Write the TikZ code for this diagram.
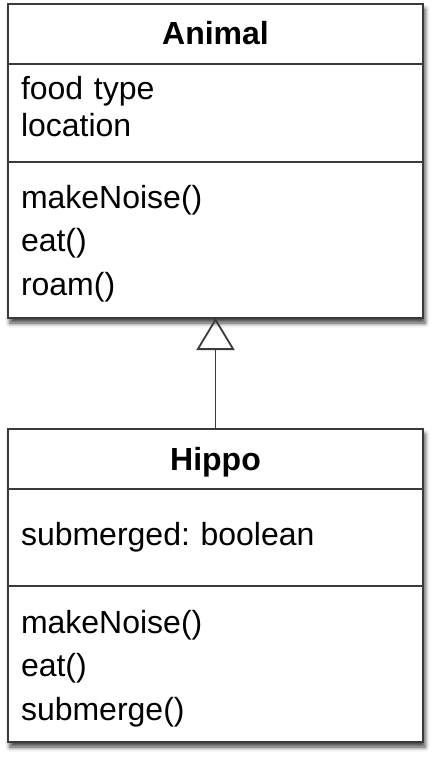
\documentclass[tikz,border=0pt]{standalone}
\usepackage{fontspec}
\setmainfont{Liberation Sans}
\usepackage{tikz}
\usetikzlibrary{positioning,arrows.meta,fit,backgrounds,shadows.blur}

\definecolor{umlline}{HTML}{3A3A3A}

\tikzset{
  umlpart/.style={draw=umlline, line width=1.8pt, fill=white, outer sep=0pt,
    text width=389pt, inner xsep=13pt, inner ysep=0pt, align=left,
    font=\frenchspacing\fontsize{32}{37}\selectfont},
  umlhead/.style={umlpart, align=center, text height=22pt, text depth=0pt,
    minimum height=60pt, font=\frenchspacing\bfseries\fontsize{32}{37}\selectfont},
  umlshadow/.style={fill=white, inner sep=0pt,
    blur shadow={shadow xshift=2pt, shadow yshift=-5pt, shadow blur radius=4.5pt, shadow opacity=75}},
  umlarrow/.style={draw=umlline, line width=1.8pt,
    -{Triangle[open, length=32pt, width=38pt, line width=1.8pt]}}
}

\begin{document}
\begin{tikzpicture}[x=1pt, y=1pt]

  \useasboundingbox (0,0) rectangle (434,-762);

  % the Animal class
  \node[umlhead] (animalhead) at (215.5,-34) {Animal};
  \node[umlpart, below=0pt of animalhead, text height=36pt, text depth=62pt]
    (animalattr) {food type\\location};
  \node[umlpart, below=0pt of animalattr, text height=46pt, text depth=110pt]
    (animalmeth) {makeNoise()\\[6.5pt]eat()\\[6.5pt]roam()};

  % the Hippo class
  \node[umlhead] (hippohead) at (215.5,-459) {Hippo};
  \node[umlpart, below=0pt of hippohead, text height=56pt, text depth=41pt]
    (hippoattr) {submerged: boolean};
  \node[umlpart, below=0pt of hippoattr, text height=47pt, text depth=109pt]
    (hippometh) {makeNoise()\\[6.5pt]eat()\\[6.5pt]submerge()};

  % shadows behind both boxes
  \begin{scope}[on background layer]
    \node[umlshadow, fit=(animalhead)(animalmeth)] (animal) {};
    \node[umlshadow, fit=(hippohead)(hippometh)] (hippo) {};
  \end{scope}

  % inheritance
  \draw[umlarrow] (hippohead.north) -- (animalmeth.south);

\end{tikzpicture}
\end{document}
